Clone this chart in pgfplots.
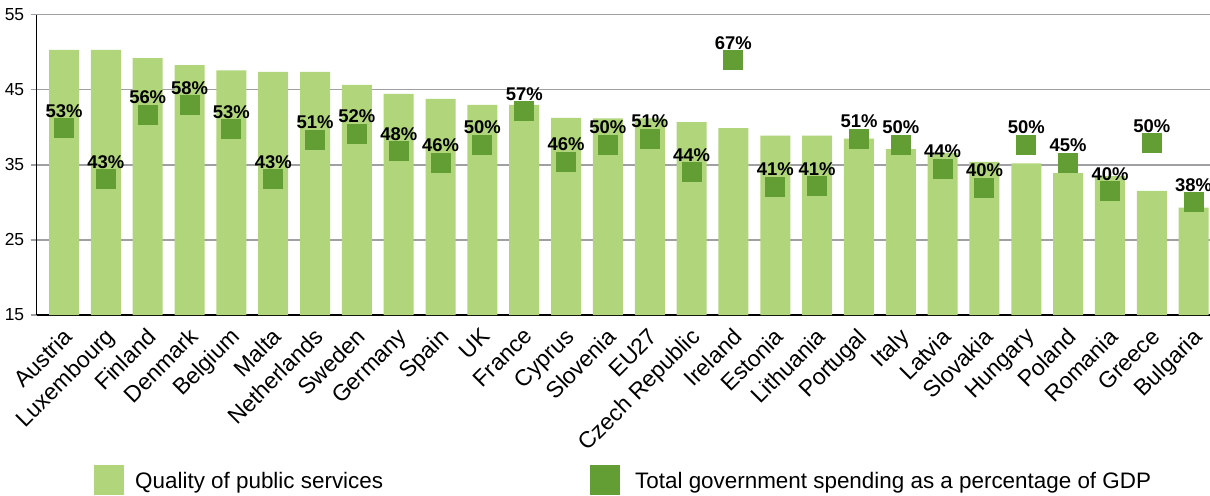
\documentclass[border=0pt]{standalone}
\usepackage{fontspec}
\setmainfont{Liberation Sans}
\usepackage{pgfplots}
\usepackage{pgfplotstable}
\pgfplotsset{compat=1.18}
\definecolor{barg}{RGB}{176,213,122}
\definecolor{sqg}{RGB}{98,158,52}
\definecolor{gridg}{RGB}{160,160,164}

\pgfplotstableread{
x bar pos lab
0 50.3 53.1 53
1 50.3 42.7 43
2 49.2 55.9 56
3 48.3 57.8 58
4 47.6 52.9 53
5 47.4 42.7 43
6 47.4 50.8 51
7 45.65 52.0 52
8 44.45 48.4 48
9 43.8 46.0 46
10 43.0 49.8 50
11 43.0 56.6 57
12 41.26 46.3 46
13 41.2 49.8 50
14 41.2 50.9 51
15 40.7 44.1 44
16 39.9 67.0 67
17 38.9 41.1 41
18 38.9 41.3 41
19 38.5 50.9 51
20 37.1 49.8 50
21 36.6 44.9 44
22 35.4 40.9 40
23 35.2 49.8 50
24 33.9 46.0 45
25 33.5 40.25 40
26 31.55 50.05 50
27 29.3 38.0 38
}\data

\begin{document}
\begin{tikzpicture}
\begin{axis}[at={(0,0)},anchor=south west,scale only axis,
  width=1173.3bp,height=300.3bp,
  xmin=-0.653,xmax=27.39,ymin=15,ymax=55,
  ytick={15,25,35,45,55},
  xtick={0,...,27},
  xticklabels={Austria,Luxembourg,Finland,Denmark,Belgium,Malta,Netherlands,Sweden,Germany,Spain,UK,France,Cyprus,Slovenia,EU27,Czech Republic,Ireland,Estonia,Lithuania,Portugal,Italy,Latvia,Slovakia,Hungary,Poland,Romania,Greece,Bulgaria},
  axis x line*=bottom, axis y line*=left,
  axis line style={-,black,line width=1.3bp},
  ymajorgrids, grid style={gridg,line width=1.3bp},
  x tick style={draw=none},
  y tick style={gridg,line width=1.3bp},
  tick align=outside, major tick length=6bp,
  yticklabel style={font=\fontsize{17.5}{17.5}\selectfont, xshift=-3bp},
  xticklabel style={font=\fontsize{23}{23}\selectfont, rotate=45, anchor=north east, xshift=-2bp, yshift=1bp},
  /pgf/number format/assume math mode=true,
]
\addplot[ybar, bar width=30bp, fill=barg, draw=none] table[x=x,y=bar]{\data};
\end{axis}
\begin{axis}[at={(0,0)},anchor=south west,scale only axis,
  width=1173.3bp,height=300.3bp,
  xmin=-0.653,xmax=27.39,ymin=15,ymax=76.3,
  hide axis, clip=false]
\addplot[only marks, color=sqg, mark=square*, mark size=9.5bp,
  mark options={fill=sqg,draw=sqg,line width=0pt},
  point meta=explicit symbolic,
  nodes near coords={\pgfplotspointmeta\%},
  every node near coord/.append style={text=black, font=\bfseries\fontsize{18.5}{18.5}\selectfont, anchor=south, inner sep=0pt, yshift=11bp}]
  table[x=x,y=pos,meta=lab]{\data};
\end{axis}
\fill[barg] (57.3bp,-180bp) rectangle (87.3bp,-150bp);
\node[anchor=base west, inner sep=0pt, font=\fontsize{22.5}{22.5}\selectfont] at (98.3bp,-173.3bp) {Quality of public services};
\fill[sqg] (553.3bp,-180bp) rectangle (583.3bp,-150bp);
\node[anchor=base west, inner sep=0pt, font=\fontsize{22.5}{22.5}\selectfont] at (598.3bp,-173.3bp) {Total government spending as a percentage of GDP};
\pgfresetboundingbox
\path[use as bounding box] (-36.7bp,-181bp) rectangle (1173.3bp,315bp);
\end{tikzpicture}
\end{document}
